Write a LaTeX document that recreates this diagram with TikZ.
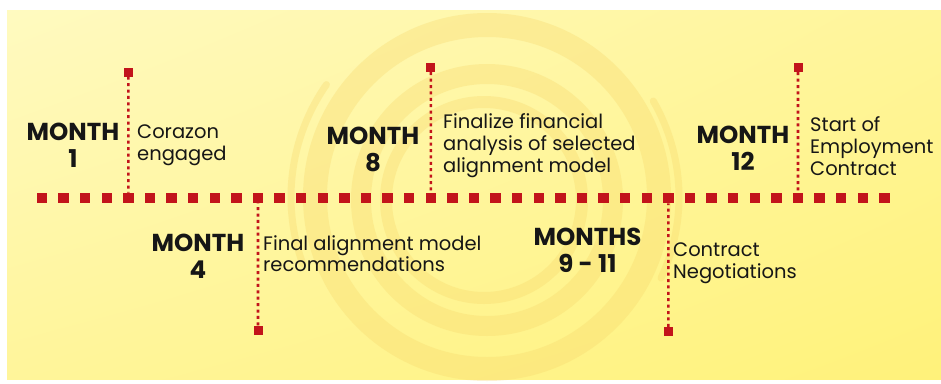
\documentclass[tikz,border=0pt]{standalone}
\usepackage{fontspec}
\setmainfont{Poppins}
\usetikzlibrary{positioning, shadings}
\definecolor{tlred}{HTML}{C2141B}
\definecolor{bgA}{HTML}{FFFAC0}
\definecolor{bgB}{HTML}{FFF59A}
\definecolor{bgC}{HTML}{FFF27A}
\definecolor{ringcol}{HTML}{F6D66A}
\definecolor{txt}{HTML}{161616}

\tikzset{
  tlsq/.style={fill=tlred, minimum size=10.5pt, inner sep=0pt},
  endsq/.style={fill=tlred, minimum size=9pt, inner sep=0pt},
  stem/.style={tlred, line width=2.6pt, dash pattern=on 3pt off 3.4pt},
  monthlbl/.style={anchor=north, inner sep=0pt, align=center, text=txt,
    font={\fontsize{24.5}{27}\selectfont\bfseries}},
  desc/.style={anchor=north west, inner sep=0pt, align=left, text=txt,
    font={\fontsize{19.5}{21.7}\selectfont}},
  ring/.style={ringcol, opacity=0.32}
}

\begin{document}
\begin{tikzpicture}[x=1pt, y=-1pt]
    \useasboundingbox (0,0) rectangle (941,383);
    % Background
    \fill[white] (0,0) rectangle (941,383);
    \shade[upper left=bgA, upper right=bgB, lower left=bgB, lower right=bgC] (7,10) rectangle (941,379);

    % Swirl behind the timeline
    \draw[ring, line width=24pt] (487,197) circle (172);
    \draw[ring, line width=20pt] (487,200) circle (126);
    \draw[ring, line width=12pt] (484,200) circle (98);
    \draw[ring, line width=7pt, line cap=round] (487,197) ++(160:196) arc (160:215:196);
    \draw[ring, line width=7pt, line cap=round] (487,197) ++(-30:192) arc (-30:25:192);

    % Timeline squares
    \foreach \k in {0,...,39}
        \node[tlsq] (s\k) at ({42+21.6*\k},198) {};

    % End squares of the stems
    \node[endsq] (top1) at (128.4,72) {};
    \node[endsq] (bot4) at (258,330) {};
    \node[endsq] (top8) at (430.8,67.5) {};
    \node[endsq] (bot11) at (668.4,331.5) {};
    \node[endsq] (top12) at (798,67.5) {};

    % Stems
    \draw[stem] (top1) -- (s4);
    \draw[stem] (bot4) -- (s10);
    \draw[stem] (top8) -- (s18);
    \draw[stem] (bot11) -- (s29);
    \draw[stem] (top12) -- (s35);

    % Months
    \node[monthlbl] (m1) at (73,122.5) {MONTH\\1};
    \node[monthlbl] (m4) at (198,233.5) {MONTH\\4};
    \node[monthlbl] (m8) at (373,126.5) {MONTH\\8};
    \node[monthlbl] (m911) at (587.5,227.5) {MONTHS\\9 - 11};
    \node[monthlbl] (m12) at (743,126) {MONTH\\12};

    % What happens
    \node[desc] (d1) at (137,125) {Corazon\\engaged};
    \node[desc] (d4) at (263,235) {Final alignment model\\recommendations};
    \node[desc] (d8) at (443,113.5) {Finalize financial\\analysis of selected\\alignment model};
    \node[desc] (d911) at (673,242.5) {Contract\\Negotiations};
    \node[desc] (d12) at (810,116.5) {Start of\\Employment\\Contract};
\end{tikzpicture}
\end{document}
